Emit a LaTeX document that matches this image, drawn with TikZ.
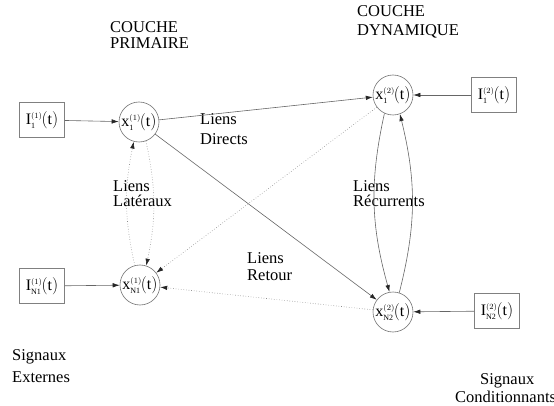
\documentclass[tikz,border=0pt]{standalone}
\usepackage{fontspec}
\setmainfont{Liberation Serif}
\usepackage{amsmath}
\usetikzlibrary{arrows.meta}
\newcommand\lbl[3]{$\mathrm{#1}^{\scriptscriptstyle(#3)}_{\scriptscriptstyle\mathrm{#2}}\mkern-1mu\mathrm{(t)}$}
\begin{document}
\begin{tikzpicture}[x=1pt,y=-1pt,
  every node/.style={font=\fontsize{16.5}{16}\selectfont},
  cell/.style={circle,draw=black!55,line width=0.6pt,minimum size=40pt,inner sep=0pt,font=\fontsize{16}{16}\selectfont},
  inbox/.style={rectangle,draw=black!50,line width=0.6pt,minimum width=45pt,minimum height=35pt,inner sep=0pt,font=\fontsize{16}{16}\selectfont},
  arr/.style={-{Latex[length=7pt,width=4.5pt,color=black!85]},draw=black!60,line width=0.6pt},
  dots/.style={arr,dotted,draw=black!45},
  txt/.style={anchor=base west,inner sep=0pt}]
\useasboundingbox (0,0) rectangle (554,406);
% nodes
\node[inbox] (b1) at (42,120) {\lbl{I}{1}{1}};
\node[inbox] (bN) at (42,286) {\lbl{I}{N1}{1}};
\node[cell] (c1) at (139,122) {\lbl{x}{1}{1}};
\node[cell] (cN) at (140,285) {\lbl{x}{N1}{1}};
\node[cell] (d1) at (393,95) {\lbl{x}{1}{2}};
\node[cell] (dN) at (393,312) {\lbl{x}{N2}{2}};
\node[inbox] (e1) at (494,95) {\lbl{I}{1}{2}};
\node[inbox] (eN) at (497,311) {\lbl{I}{N2}{2}};
% texts
\node[txt] (t1) at (110,33) {COUCHE};
\node[txt] (t2) at (110,49) {PRIMAIRE};
\node[txt] (t3) at (357,17) {COUCHE};
\node[txt] (t4) at (357,36) {DYNAMIQUE};
\node[txt] (t5) at (200,125) {Liens};
\node[txt] (t6) at (200,145) {Directs};
\node[txt] (t7) at (113,192) {Liens};
\node[txt] (t8) at (113,207) {Latéraux};
\node[txt] (t9) at (353,192) {Liens};
\node[txt] (t10) at (353,207) {Récurrents};
\node[txt] (t11) at (247,263) {Liens};
\node[txt] (t12) at (247,280) {Retour};
\node[txt] (t13) at (12,360) {Signaux};
\node[txt] (t14) at (12,382) {Externes};
\node[txt] (t15) at (480,384) {Signaux};
\node[txt] (t16) at (455,402) {Conditionnants};
% connectors
\draw[arr] (b1) -- (c1);
\draw[arr] (bN) -- (cN);
\draw[arr] (c1) -- (d1);
\draw[arr] (c1) -- (dN);
\draw[arr] (e1) -- (d1);
\draw[arr] (eN) -- (dN);
\draw[dots] (d1) -- (cN);
\draw[dots] (dN) -- (cN);
\draw[dots] (cN.105) to[bend left=12] (c1.255);
\draw[dots] (c1.290) to[bend left=12] (cN.72);
\draw[arr] (d1.245) to[bend right=14] (dN.100);
\draw[arr] (dN.72) to[bend right=14] (d1.290);
\end{tikzpicture}
\end{document}
